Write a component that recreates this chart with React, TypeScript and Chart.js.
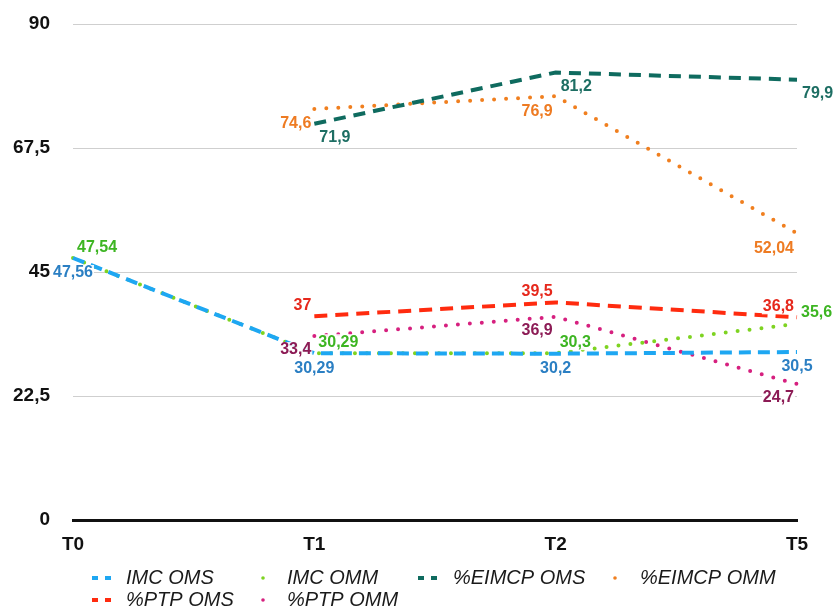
import React, { useEffect, useRef } from 'react';
import { Chart, registerables } from 'chart.js';

Chart.register(...registerables);

const categories = ['T0', 'T1', 'T2', 'T5'];
const imcOms = [47.56, 30.29, 30.2, 30.5];
const imcOmm = [47.54, 30.29, 30.3, 35.6];
const eimcpOms = [null, 71.9, 81.2, 79.9];
const eimcpOmm = [null, 74.6, 76.9, 52.04];
const ptpOms = [null, 37, 39.5, 36.8];
const ptpOmm = [null, 33.4, 36.9, 24.7];
const yTicks = [0, 22.5, 45, 67.5, 90];
const seriesNames = ['IMC OMS', 'IMC OMM', '%EIMCP OMS', '%EIMCP OMM', '%PTP OMS', '%PTP OMM'];
const seriesValues = [imcOms, imcOmm, eimcpOms, eimcpOmm, ptpOms, ptpOmm];

const FONT = "'Liberation Sans', Arial, Helvetica, sans-serif";

type Style = {
  line: string;
  label: string;
  dash: number[];
  width: number;
  dotted: boolean;
  align: CanvasTextAlign;
  dx: number;
  dy: number;
};

const styles: Style[] = [
  { line: '#1ea7f2', label: '#2b7fc3', dash: [12, 7], width: 4, dotted: false, align: 'center', dx: 0, dy: 15 },
  { line: '#7ed321', label: '#3db522', dash: [0, 12], width: 4, dotted: true, align: 'left', dx: 4, dy: -11 },
  { line: '#0f6b5f', label: '#1d6e63', dash: [12, 8], width: 4, dotted: false, align: 'left', dx: 5, dy: 14 },
  { line: '#f07f1f', label: '#ee7b22', dash: [0, 12], width: 4, dotted: true, align: 'right', dx: -3, dy: 15 },
  { line: '#ff2b0f', label: '#e6281c', dash: [13, 8], width: 4, dotted: false, align: 'right', dx: -3, dy: -11 },
  { line: '#d6207f', label: '#8c1b55', dash: [0, 12], width: 4, dotted: true, align: 'right', dx: -3, dy: 14 },
];

const fmt = (v: number) => String(v).replace('.', ',');

const labelPlugin = {
  id: 'valueLabels',
  afterDatasetsDraw(chart: any) {
    const ctx = chart.ctx as CanvasRenderingContext2D;
    ctx.save();
    ctx.font = `bold 16px ${FONT}`;
    ctx.textBaseline = 'middle';
    chart.data.datasets.forEach((ds: any, i: number) => {
      const st = styles[i];
      const meta = chart.getDatasetMeta(i);
      meta.data.forEach((pt: any, j: number) => {
        const v = ds.data[j];
        if (v === null || v === undefined) return;
        const text = fmt(v);
        const x = pt.x + st.dx;
        const y = pt.y + st.dy;
        const w = ctx.measureText(text).width;
        let left = x;
        if (st.align === 'center') left = x - w / 2;
        else if (st.align === 'right') left = x - w;
        ctx.fillStyle = 'rgba(255,255,255,0.9)';
        ctx.fillRect(left - 1, y - 8, w + 2, 16);
        ctx.fillStyle = st.label;
        ctx.textAlign = st.align;
        ctx.fillText(text, x, y);
      });
    });
    ctx.restore();
  },
};

const legendCols = [
  { sx: 84, tx: 118 },
  { sx: 245, tx: 279 },
  { sx: 410, tx: 445 },
  { sx: 597, tx: 632 },
];
const legendRows = [570, 592];

const legendPlugin = {
  id: 'gridLegend',
  afterDraw(chart: any) {
    const ctx = chart.ctx as CanvasRenderingContext2D;
    ctx.save();
    ctx.font = `italic 20px ${FONT}`;
    ctx.textBaseline = 'middle';
    ctx.textAlign = 'left';
    seriesNames.forEach((name, i) => {
      const col = legendCols[i % 4];
      const y = legendRows[Math.floor(i / 4)];
      const st = styles[i];
      ctx.strokeStyle = st.line;
      ctx.fillStyle = st.line;
      if (st.dotted) {
        ctx.beginPath();
        ctx.arc(col.sx + 10, y, 1.8, 0, Math.PI * 2);
        ctx.fill();
      } else {
        ctx.lineWidth = 4;
        ctx.setLineDash([6, 7]);
        ctx.beginPath();
        ctx.moveTo(col.sx, y);
        ctx.lineTo(col.sx + 19, y);
        ctx.stroke();
        ctx.setLineDash([]);
      }
      ctx.fillStyle = '#1a1a1a';
      ctx.fillText(name, col.tx, y);
    });
    ctx.restore();
  },
};

export default function App() {
  const ref = useRef<HTMLCanvasElement | null>(null);

  useEffect(() => {
    document.documentElement.style.overflow = 'hidden';
    document.body.style.margin = '8px 0 0 8px';
    if (!ref.current) return;
    const chart = new Chart(ref.current, {
      type: 'line',
      data: {
        labels: categories,
        datasets: seriesValues.map((vals, i) => ({
          label: seriesNames[i],
          data: vals,
          borderColor: styles[i].line,
          backgroundColor: styles[i].line,
          borderWidth: styles[i].width,
          borderDash: styles[i].dash,
          borderCapStyle: styles[i].dotted ? 'round' : 'butt',
          pointRadius: 0,
          pointHoverRadius: 0,
          tension: 0,
          fill: false,
          spanGaps: false,
        })) as any,
      },
      options: {
        animation: false,
        responsive: true,
        maintainAspectRatio: false,
        layout: { padding: { top: 16, right: 36, bottom: 39, left: 0 } },
        plugins: {
          legend: { display: false },
          tooltip: { enabled: false },
        },
        scales: {
          x: {
            offset: false,
            grid: { display: false, drawTicks: false },
            border: { display: true, color: '#111', width: 3 },
            ticks: {
              color: '#111',
              font: { family: FONT, size: 19, weight: 'bold' },
              padding: 13,
              maxRotation: 0,
            },
          },
          y: {
            min: 0,
            max: 90,
            afterFit: (s: any) => {
              s.width = 65;
              s.paddingTop = 0;
              s.paddingBottom = 0;
            },
            afterBuildTicks: (s: any) => {
              s.ticks = yTicks.map((v) => ({ value: v }));
            },
            grid: { color: '#cfcfcf', lineWidth: 1, drawTicks: false },
            border: { display: false },
            ticks: {
              color: '#111',
              font: { family: FONT, size: 19, weight: 'bold' },
              padding: 23,
              callback: (v: any) => fmt(Number(v)),
            },
          },
        },
      },
      plugins: [labelPlugin, legendPlugin],
    });
    return () => chart.destroy();
  }, []);

  return (
    <div style={{ width: 825, height: 600, position: 'relative' }}>
      <canvas ref={ref} />
    </div>
  );
}
